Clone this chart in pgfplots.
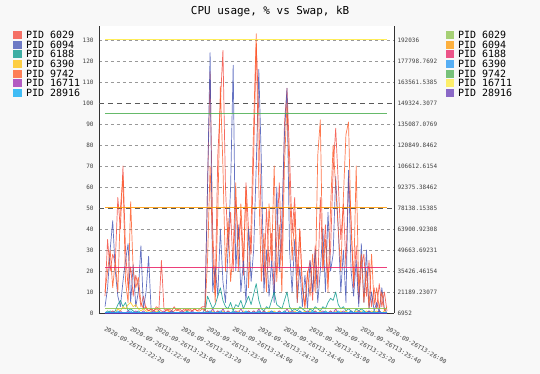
\documentclass[border=0pt]{standalone}
\usepackage{fontspec}
\setmainfont{DejaVu Sans Mono}
\usepackage{pgfplots}
\usepackage{pgfplotstable}
\pgfplotsset{compat=1.18}
\definecolor{bgc}{HTML}{F8F8F8}
\definecolor{p1}{HTML}{F44336}
\definecolor{p2}{HTML}{3F51B5}
\definecolor{p3}{HTML}{009688}
\definecolor{p4}{HTML}{FFC107}
\definecolor{p5}{HTML}{FF5722}
\definecolor{p6}{HTML}{9C27B0}
\definecolor{p7}{HTML}{03A9F4}
\definecolor{s1}{HTML}{8BC34A}
\definecolor{s2}{HTML}{FF9800}
\definecolor{s3}{HTML}{E91E63}
\definecolor{s4}{HTML}{2196F3}
\definecolor{s5}{HTML}{4CAF50}
\definecolor{s6}{HTML}{FFEB3B}
\definecolor{s7}{HTML}{673AB7}

\pgfplotstableread{
t a b c d e f g
20 8 3 0 0 10 0 0
22 35 12 0 1 20 0 1
24 20 30 1 0 30 0 0
26 28 44 0 1 12 1 0
28 24 20 1 0 25 0 0
30 55 8 4 2 10 0 1
32 40 3 6 1 50 1 0
34 70 15 3 3 65 0 0
36 30 25 5 2 15 0 0
38 12 33 1 4 5 1 0
40 22 5 2 5 53 0 1
42 8 23 1 3 20 0 0
44 18 3 0 4 12 1 0
46 12 10 1 2 17 0 0
48 3 32 0 1 5 0 0
50 8 2 0 2 2 1 0
52 2 10 0 1 3 0 0
54 1 27 0 0 1 0 0
56 2 1 0 1 2 0 0
58 1 0 0 0 1 1 0
60 2 0 0 1 3 0 0
62 1 0 1 0 2 0 0
64 25 0 0 0 1 0 0
66 2 0 0 0 0 1 0
68 1 0 0 0 2 0 0
70 2 0 0 1 1 0 0
72 1 0 1 0 0 1 0
74 3 0 0 0 1 0 0
76 1 0 0 0 2 0 0
78 2 0 0 0 1 0 0
80 1 0 0 0 0 1 0
82 2 0 0 0 1 0 0
84 1 0 1 0 2 0 0
86 2 0 0 0 1 0 0
88 1 0 0 0 1 1 0
90 2 0 0 0 2 0 0
92 1 0 0 0 1 0 0
94 2 0 0 0 1 0 0
96 3 0 0 0 2 0 0
98 3 2 0 0 1 0 0
100 60 60 8 1 25 1 0
102 115 124 5 0 70 0 1
104 40 10 2 1 30 2 0
106 10 22 4 0 5 0 0
108 75 8 8 1 48 1 0
110 100 40 12 0 108 0 1
112 125 15 6 1 70 2 0
114 60 5 3 0 20 0 0
116 30 30 2 1 45 1 0
118 48 60 5 0 15 0 0
120 20 118 1 1 30 0 1
122 55 20 4 0 62 1 0
124 35 42 3 1 20 0 0
126 45 10 6 0 52 2 0
128 18 25 2 1 25 0 0
130 62 5 5 0 60 0 1
132 40 40 8 1 12 1 0
134 28 15 4 0 42 0 0
136 75 30 9 1 90 1 0
138 128 70 14 0 133 0 0
140 95 116 6 1 60 2 1
142 40 72 2 0 15 0 0
144 15 10 1 1 38 1 0
146 50 30 3 0 10 0 0
148 22 8 2 1 52 0 0
150 38 25 6 0 25 1 1
152 10 5 10 1 70 0 0
154 35 60 4 0 15 0 0
156 62 20 3 1 42 1 0
158 25 45 2 0 10 0 0
160 90 85 6 1 70 0 1
162 107 107 10 0 100 2 0
164 75 30 3 1 60 0 0
166 38 10 1 0 25 1 0
168 55 35 2 1 48 0 0
170 18 5 1 0 5 0 0
172 40 22 3 1 40 1 1
174 12 3 2 0 12 0 0
176 4 18 1 1 2 0 0
178 18 2 0 0 20 1 0
180 25 25 2 1 8 0 0
182 6 10 1 0 28 0 1
184 32 30 3 1 10 1 0
186 12 5 2 0 75 0 0
188 55 20 1 1 92 0 0
190 22 40 3 0 20 1 0
192 42 10 2 1 35 0 1
194 15 48 5 0 10 0 0
196 30 20 7 1 50 1 0
198 68 28 6 0 80 0 0
200 88 65 10 1 60 2 0
202 62 40 4 0 40 0 1
204 35 10 2 1 20 0 0
206 52 30 3 0 55 1 0
208 22 5 1 1 85 0 0
210 65 68 2 0 91 0 0
212 45 20 1 1 40 1 1
214 12 8 0 0 15 0 0
216 32 25 2 1 70 0 0
218 5 3 1 0 10 1 0
220 22 33 2 1 28 0 0
222 28 5 1 0 5 0 1
224 8 30 0 1 20 0 0
226 25 2 1 0 2 1 0
228 3 10 0 1 28 0 0
230 12 1 1 0 4 0 0
232 2 5 0 1 12 0 0
234 14 0 1 0 2 1 0
236 3 12 0 0 10 0 0
238 10 2 0 1 1 0 0
240 1 0 0 0 3 0 0
}\cpu

\pgfplotsset{
  common/.style={
    at={(0,0)}, anchor=south west,
    width=295bp, height=287bp, scale only axis,
    xmin=15.3, xmax=245.5,
    tick style={draw=none},
    axis line style={-, draw=black!80, line width=0.8bp},
    legend cell align=left,
    legend image code/.code={\fill[##1,draw=none,opacity=1,fill opacity=0.75] (0bp,-3bp) rectangle (8.5bp,5bp);},
  },
  ser/.style={no markers, line width=0.7bp, opacity=0.8, line join=round},
  sec/.style={no markers, line width=1bp, opacity=0.85},
  leg/.style={anchor=north west, draw=none, fill=none,
    font=\fontsize{10}{10}\selectfont, row sep=0pt, column sep=3.5bp, inner sep=0pt, outer sep=0pt,
    nodes={inner sep=0.6bp, text height=6.6bp, text depth=1.6bp}},
}

\begin{document}
\begin{tikzpicture}
\fill[bgc] (-99bp,-61bp) rectangle (441bp,313bp);
\useasboundingbox (-99bp,-61bp) rectangle (441bp,313bp);
\begin{axis}[common,
  ymin=0, ymax=136.67,
  axis x line*=bottom, axis y line*=left,
  axis background/.style={fill=white},
  ytick={0,10,20,30,40,60,70,80,90,110,120,130},
  extra y ticks={50,100},
  extra y tick style={major grid style={dash pattern=on 5bp off 4bp, draw=black!65, line width=0.8bp}},
  ymajorgrids,
  major grid style={dash pattern=on 3bp off 3bp, draw=black!40, line width=0.6bp},
  /pgf/number format/assume math mode=true,
  yticklabel style={font=\fontsize{6}{7}\selectfont, text=black!75, xshift=-2bp},
  xtick={20,40,...,240},
  xticklabels={2020-09-26T13:22:20,2020-09-26T13:22:40,2020-09-26T13:23:00,2020-09-26T13:23:20,2020-09-26T13:23:40,2020-09-26T13:24:00,2020-09-26T13:24:20,2020-09-26T13:24:40,2020-09-26T13:25:00,2020-09-26T13:25:20,2020-09-26T13:25:40,2020-09-26T13:26:00},
  xticklabel style={font=\fontsize{6}{7}\selectfont, text=black!75, yshift=-13bp, xshift=1bp, rotate=-30, anchor=north west, inner sep=0pt},
  title={CPU usage, \% vs Swap, kB},
  title style={at={(0.58,1.029)}, anchor=center, font=\fontsize{11}{12}\selectfont},
  legend style={leg, at={(-0.29,0.9826)}},
]
\addplot[ser, color=p1] table[x=t,y=a] {\cpu};
\addlegendentry{PID 6029}
\addplot[ser, color=p2] table[x=t,y=b] {\cpu};
\addlegendentry{PID 6094}
\addplot[ser, color=p3] table[x=t,y=c] {\cpu};
\addlegendentry{PID 6188}
\addplot[ser, color=p4] table[x=t,y=d] {\cpu};
\addlegendentry{PID 6390}
\addplot[ser, color=p5] table[x=t,y=e] {\cpu};
\addlegendentry{PID 9742}
\addplot[ser, color=p6] table[x=t,y=f] {\cpu};
\addlegendentry{PID 16711}
\addplot[ser, color=p7] table[x=t,y=g] {\cpu};
\addlegendentry{PID 28916}
\end{axis}
\begin{axis}[common,
  ymin=6952, ymax=201527.5,
  axis y line*=right, axis x line=none,
  clip=false, scaled y ticks=false,
  ytick={6952,21189.23077,35426.46154,49663.69231,63900.92308,78138.15385,92375.38462,106612.6154,120849.8462,135087.0769,149324.3077,163561.5385,177798.7692,192036},
  yticklabels={6952,21189.23077,35426.46154,49663.69231,63900.92308,78138.15385,92375.38462,106612.6154,120849.8462,135087.0769,149324.3077,163561.5385,177798.7692,192036},
  yticklabel style={font=\fontsize{6}{7}\selectfont, text=black!75, anchor=west, xshift=0bp},
  legend style={leg, at={(1.175,0.9826)}},
]
\addplot[sec, color=s1] coordinates {(20,10100) (240,10100)};
\addlegendentry{PID 6029}
\addplot[sec, color=s2] coordinates {(20,78600) (240,78600)};
\addlegendentry{PID 6094}
\addplot[sec, color=s3] coordinates {(20,38100) (240,38100)};
\addlegendentry{PID 6188}
\addplot[sec, color=s4] coordinates {(20,7300) (240,7300)};
\addlegendentry{PID 6390}
\addplot[sec, color=s5] coordinates {(20,142400) (240,142400)};
\addlegendentry{PID 9742}
\addplot[sec, color=s6] coordinates {(20,192036) (240,192036)};
\addlegendentry{PID 16711}
\addplot[sec, color=s7] coordinates {(20,6952) (240,6952)};
\addlegendentry{PID 28916}
\end{axis}
\end{tikzpicture}
\end{document}
